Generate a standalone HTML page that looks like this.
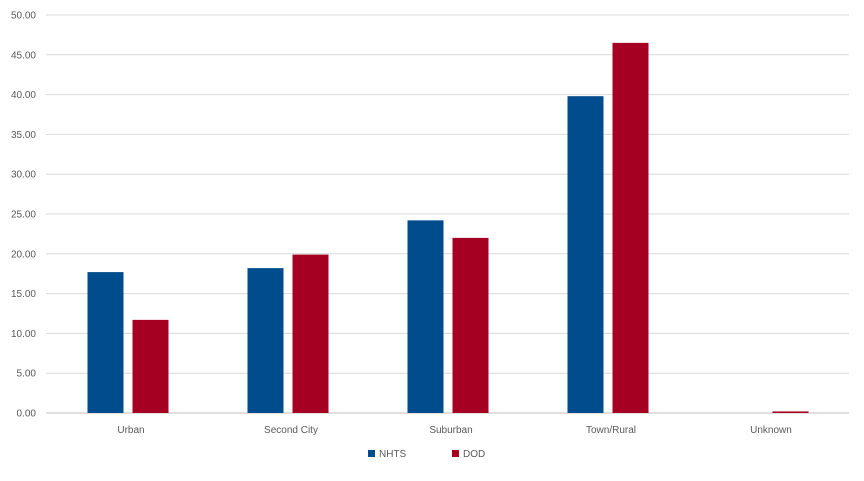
<!DOCTYPE html>
<html><head><meta charset="utf-8"><style>
body{margin:0;background:#fff;}
svg text{font-family:"Liberation Sans",sans-serif;font-size:10px;fill:#595959;}
</style></head><body>
<svg id="chart" width="864" height="476" xmlns="http://www.w3.org/2000/svg"></svg>
<script>
const categories=["Urban","Second City","Suburban","Town/Rural","Unknown"];
const nhtsValues=[17.7,18.2,24.2,39.8,0];
const dodValues=[11.7,19.9,22.0,46.5,0.2];
const yTicks=[0,5,10,15,20,25,30,35,40,45,50];
const seriesNames=["NHTS","DOD"];
const colors=["#004C8C","#A50021"];
const svg=document.getElementById('chart');
const NS="http://www.w3.org/2000/svg";
const x0=48,x1=848,yTop=15,yBot=413,yMax=50;
const gx0=46,gx1=849;
function y(v){return yBot-(v/yMax)*(yBot-yTop);}
const band=(x1-x0)/categories.length;
function el(t,a){const e=document.createElementNS(NS,t);for(const k in a)e.setAttribute(k,a[k]);svg.appendChild(e);return e;}
yTicks.forEach(t=>{
  const g=el('line',{x1:gx0,x2:gx1,y1:y(t),y2:y(t),stroke:t===0?'#bfbfbf':'#d9d9d9','stroke-width':1});
  
  
  const tx=el('text',{x:36,y:y(t)+3.5,'text-anchor':'end'});
  tx.textContent=t.toFixed(2);
  
  
});
const bw=36,gap=9;
categories.forEach((c,i)=>{
  const cx=x0+band*(i+0.5);
  [nhtsValues[i],dodValues[i]].forEach((v,s)=>{
    const bx=s===0?cx-gap/2-bw:cx+gap/2;
    const r=el('rect',{x:bx,y:y(v),width:bw,height:yBot-y(v),fill:colors[s]});
    
    
  });
  const t=el('text',{x:cx+3,y:433,'text-anchor':'middle'});
  t.textContent=c;
  
  
});
const lx=[368,452];
seriesNames.forEach((n,s)=>{
  const r=el('rect',{x:lx[s],y:450,width:7,height:7,fill:colors[s]});
  
  
  const t=el('text',{x:lx[s]+11,y:457});
  t.textContent=n;
  
  
});
</script>
</body></html>
